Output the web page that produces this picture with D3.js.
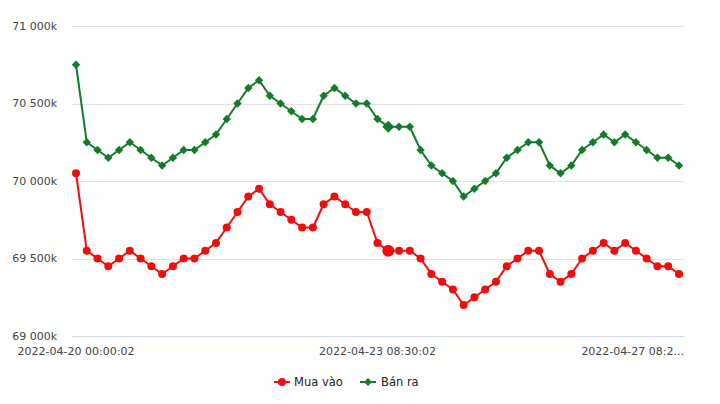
<!DOCTYPE html>
<html>
<head>
<meta charset="utf-8">
<script src="https://cdn.jsdelivr.net/npm/d3@7"></script>
<style>
  html, body { margin: 0; padding: 0; background: #fff; }
  svg { display: block; font-family: "DejaVu Sans", Verdana, sans-serif; }
</style>
</head>
<body>
<svg id="chart" width="720" height="404"></svg>
<script>
// ---- data ----
const seriesNames = ["Mua vào", "Bán ra"];
const seriesColors = ["#f20d0d", "#127c2c"];
// buy prices (thousand VND)
const muaVao = [70050, 69550, 69500, 69450, 69500, 69550, 69500, 69450, 69400, 69450,
  69500, 69500, 69550, 69600, 69700, 69800, 69900, 69950, 69850, 69800,
  69750, 69700, 69700, 69850, 69900, 69850, 69800, 69800, 69600, 69550,
  69550, 69550, 69500, 69400, 69350, 69300, 69200, 69250, 69300, 69350,
  69450, 69500, 69550, 69550, 69400, 69350, 69400, 69500, 69550, 69600,
  69550, 69600, 69550, 69500, 69450, 69450, 69400];
// sell prices (thousand VND)
const banRa = [70750, 70250, 70200, 70150, 70200, 70250, 70200, 70150, 70100, 70150,
  70200, 70200, 70250, 70300, 70400, 70500, 70600, 70650, 70550, 70500,
  70450, 70400, 70400, 70550, 70600, 70550, 70500, 70500, 70400, 70350,
  70350, 70350, 70200, 70100, 70050, 70000, 69900, 69950, 70000, 70050,
  70150, 70200, 70250, 70250, 70100, 70050, 70100, 70200, 70250, 70300,
  70250, 70300, 70250, 70200, 70150, 70150, 70100];
const xTickIndex = [0, 28, 56];
const xTickLabels = ["2022-04-20 00:00:02", "2022-04-23 08:30:02", "2022-04-27 08:2..."];
const yTicks = [69000, 69500, 70000, 70500, 71000];
const highlightIndex = 29;

// ---- layout ----
const svg = d3.select("#chart");
const gridLeft = 72, gridRight = 684;
const x = d3.scaleLinear().domain([0, muaVao.length - 1]).range([76, 679]);
const y = d3.scaleLinear().domain([69000, 71000]).range([336, 26]);
const fmt = v => d3.format(",")(v).replace(/,/g, " ") + "k";

// grid lines
svg.append("g").selectAll("line").data(yTicks).join("line")
  .attr("x1", gridLeft).attr("x2", gridRight)
  .attr("y1", d => Math.round(y(d)) + 0.5).attr("y2", d => Math.round(y(d)) + 0.5)
  .attr("stroke", d => d === 69000 ? "#d6dbe8" : "#e3e3e3").attr("stroke-width", 1);

// y labels
svg.append("g").selectAll("text").data(yTicks).join("text")
  .attr("x", 57).attr("y", d => y(d)).attr("dy", "0.35em")
  .attr("text-anchor", "end").attr("font-size", 11).attr("fill", "#444")
  .text(fmt);

// x labels
svg.append("g").selectAll("text").data(xTickIndex).join("text")
  .attr("x", (d, i) => i === xTickIndex.length - 1 ? gridRight : x(d))
  .attr("y", 351).attr("dy", "0.35em")
  .attr("text-anchor", (d, i) => i === xTickIndex.length - 1 ? "end" : "middle")
  .attr("font-size", 11).attr("fill", "#444")
  .text((d, i) => xTickLabels[i]);

const seriesData = [muaVao, banRa];
const line = d3.line().x((d, i) => x(i)).y(d => y(d));
const diamond = (cx, cy, r) => `M${cx},${cy - r}L${cx + r},${cy}L${cx},${cy + r}L${cx - r},${cy}Z`;

seriesData.forEach((data, s) => {
  const g = svg.append("g");
  g.append("path").datum(data).attr("d", line)
    .attr("fill", "none").attr("stroke", seriesColors[s]).attr("stroke-width", 2);
  if (s === 0) {
    g.selectAll("circle").data(data).join("circle")
      .attr("cx", (d, i) => x(i)).attr("cy", d => y(d))
      .attr("r", (d, i) => i === highlightIndex ? 6 : 4)
      .attr("fill", seriesColors[s]);
  } else {
    g.selectAll("path.m").data(data).join("path").attr("class", "m")
      .attr("d", (d, i) => diamond(x(i), y(d), i === highlightIndex ? 6 : 4.2))
      .attr("fill", seriesColors[s]);
  }
});

// legend
const legend = svg.append("g");
const legendItems = [{ x: 274, tx: 294 }, { x: 360, tx: 381 }];
legendItems.forEach((it, s) => {
  const ly = 382;
  legend.append("line").attr("x1", it.x).attr("x2", it.x + 16)
    .attr("y1", ly).attr("y2", ly).attr("stroke", seriesColors[s]).attr("stroke-width", 2);
  if (s === 0) {
    legend.append("circle").attr("cx", it.x + 8).attr("cy", ly).attr("r", 4).attr("fill", seriesColors[s]);
  } else {
    legend.append("path").attr("d", diamond(it.x + 8, ly, 4)).attr("fill", seriesColors[s]);
  }
  legend.append("text").attr("x", it.tx).attr("y", ly).attr("dy", "0.35em")
    .attr("font-size", 11.5).attr("fill", "#222").text(seriesNames[s]);
});
</script>
</body>
</html>
